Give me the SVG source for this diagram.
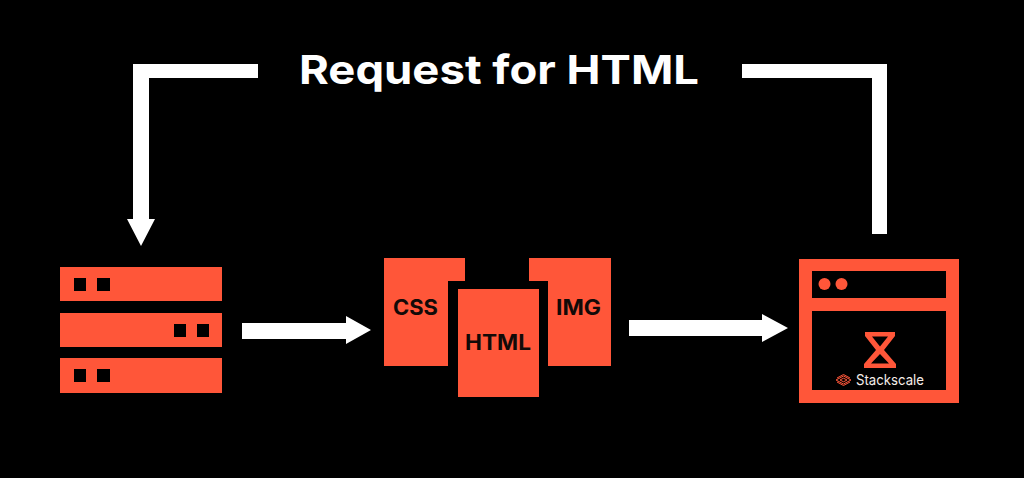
<svg xmlns="http://www.w3.org/2000/svg" width="1024" height="478" viewBox="0 0 1024 478">
<style>
.o{fill:#ff5639}
.k{fill:#000}
.w{fill:#fff}
.t{font-family:"Inter","Liberation Sans",sans-serif;font-weight:700}
.d{font-size:21px;fill:#120a08}
</style>
<rect width="1024" height="478" fill="#000"/>
<g id="title"><text class="t w" x="299" y="83.500" font-size="40" textLength="400" lengthAdjust="spacingAndGlyphs">Request for HTML</text></g>
<g id="server">
<rect class="o" x="60" y="267" width="162" height="34"/>
<rect class="o" x="60" y="313" width="162" height="34"/>
<rect class="o" x="60" y="358" width="162" height="35"/>
<rect class="k" x="74" y="278" width="12" height="13"/>
<rect class="k" x="97" y="278" width="13" height="13"/>
<rect class="k" x="174" y="324" width="12" height="13"/>
<rect class="k" x="197" y="324" width="12" height="13"/>
<rect class="k" x="74" y="369" width="12" height="13"/>
<rect class="k" x="97" y="369" width="13" height="13"/>
</g>
<g id="css">
<polygon class="o" points="384,258 465,258 465,281 448,281 448,366 384,366"/>
<text class="t d" x="393" y="314.500" textLength="45" lengthAdjust="spacingAndGlyphs">CSS</text>
</g>
<g id="img">
<polygon class="o" points="529,258 611,258 611,366 548,366 548,281 529,281"/>
<text class="t d" x="556" y="315" textLength="45" lengthAdjust="spacingAndGlyphs">IMG</text>
</g>
<g id="html">
<rect class="o" x="458" y="289" width="81" height="108"/>
<text class="t d" x="465" y="350" textLength="66" lengthAdjust="spacingAndGlyphs">HTML</text>
</g>
<g id="browser">
<rect class="o" x="799" y="259" width="160" height="144"/>
<rect class="k" x="812" y="271" width="134" height="27"/>
<rect class="k" x="812" y="311" width="134" height="79"/>
<circle class="o" cx="824.500" cy="284" r="6"/>
<circle class="o" cx="841.500" cy="284" r="6"/>
<path class="o" fill-rule="evenodd" d="M865 332H895V336L884 350L896 364V368H864V364L876 350L865 336ZM872 336.500L880 346.500L888 336.500ZM880 354L871 363.500H889Z"/>
<g fill="none" stroke="#ff5639" stroke-width="1">
<path d="M836 380L843.500 376L851 380L843.500 384Z"/>
<path d="M837 378L843.500 374.500L850 378M837 382L843.500 385.500L850 382M840 380L843.500 378.200L847 380L843.500 381.800Z"/>
</g>
<text x="856" y="385" font-family="Inter,'Liberation Sans',sans-serif" font-size="14.500" fill="#f4ece8" textLength="68" lengthAdjust="spacingAndGlyphs">Stackscale</text>
</g>
<g id="connectors" class="w">
<polygon points="258,64 133,64 133,219 127,219 141,246 155,219 149,219 149,78 258,78"/>
<polygon points="742,64 887,64 887,234 872,234 872,78 742,78"/>
<polygon points="242,323 346,323 346,316 371,330 346,344 346,339 242,339"/>
<polygon points="629,320 762,320 762,314 788,328 762,342 762,336 629,336"/>
</g>
</svg>
